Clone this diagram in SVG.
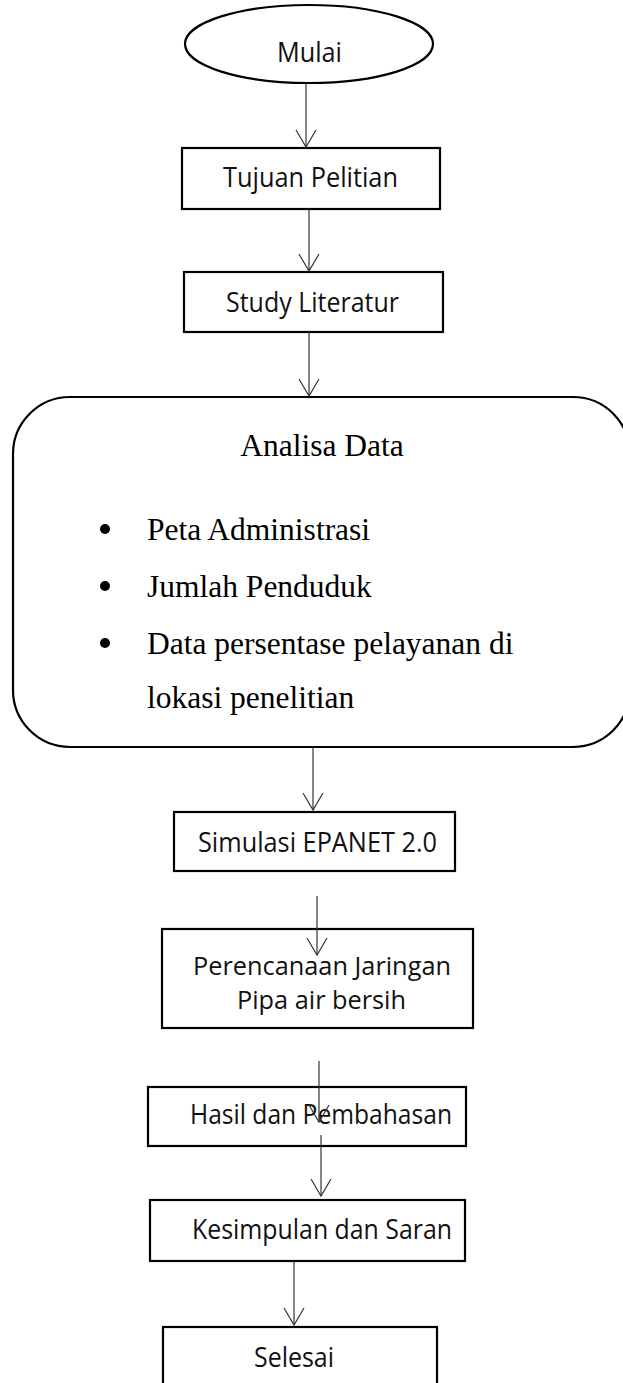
<svg xmlns="http://www.w3.org/2000/svg" width="623" height="1383" viewBox="0 0 623 1383">
<style>
.box{fill:#fff;stroke:#000;stroke-width:2.2}
.lbl{font-family:"Open Sans","Noto Sans",sans-serif;font-size:27px;fill:#111;text-anchor:middle}
.sm{font-size:25px}
.ser{font-family:"Liberation Serif","Times New Roman",serif;font-size:31.5px;fill:#000}
.con{stroke:#333;stroke-width:1.2;fill:none;marker-end:url(#arr)}
</style>
<defs>
<marker id="arr" markerUnits="userSpaceOnUse" markerWidth="40" markerHeight="40" viewBox="-20 -20 40 40" refX="0" refY="0" orient="auto" overflow="visible">
<path d="M-17,-10 L0,0 L-17,10" fill="none" stroke="#333" stroke-width="1.2"/>
</marker>
</defs>
<rect width="623" height="1383" fill="#fff"/>
<g id="mulai"><ellipse class="box" cx="309" cy="44" rx="124" ry="39"/><text class="lbl" x="309.5" y="62" textLength="65" lengthAdjust="spacingAndGlyphs">Mulai</text></g>
<g id="tujuan"><rect class="box" x="182" y="148" width="258" height="61"/><text class="lbl" x="310.5" y="187" textLength="175" lengthAdjust="spacingAndGlyphs">Tujuan Pelitian</text></g>
<g id="study"><rect class="box" x="184" y="272" width="259" height="60"/><text class="lbl" x="312.5" y="312" textLength="173" lengthAdjust="spacingAndGlyphs">Study Literatur</text></g>
<g id="analisa"><rect class="box" x="13" y="397" width="617" height="350" rx="57" ry="57"/>
<text class="ser" x="322" y="456" text-anchor="middle">Analisa Data</text>
<circle cx="105" cy="529" r="5"/><text class="ser" x="147" y="540">Peta Administrasi</text>
<circle cx="105" cy="586" r="5"/><text class="ser" x="147" y="597">Jumlah Penduduk</text>
<circle cx="105" cy="643" r="5"/><text class="ser" x="147" y="654">Data persentase pelayanan di</text>
<text class="ser" x="147" y="708">lokasi penelitian</text></g>
<g id="simulasi"><rect class="box" x="174" y="812" width="281" height="59"/><text class="lbl" x="317.5" y="852" textLength="239" lengthAdjust="spacingAndGlyphs">Simulasi EPANET 2.0</text></g>
<g id="perencanaan"><rect class="box" x="162" y="929" width="311" height="99"/><text class="lbl sm" x="322" y="975" textLength="258" lengthAdjust="spacingAndGlyphs">Perencanaan Jaringan</text><text class="lbl sm" x="321.5" y="1009" textLength="169" lengthAdjust="spacingAndGlyphs">Pipa air bersih</text></g>
<g id="hasil"><rect class="box" x="148" y="1087" width="318" height="59"/><text class="lbl" x="321" y="1124" textLength="262" lengthAdjust="spacingAndGlyphs">Hasil dan Pembahasan</text></g>
<g id="kesimpulan"><rect class="box" x="150" y="1200" width="315" height="61"/><text class="lbl" x="322" y="1239" textLength="260" lengthAdjust="spacingAndGlyphs">Kesimpulan dan Saran</text></g>
<g id="selesai"><rect class="box" x="163" y="1327" width="274" height="70"/><text class="lbl" x="294" y="1367" textLength="80" lengthAdjust="spacingAndGlyphs">Selesai</text></g>
<g id="connectors">
<line class="con" x1="306" y1="83" x2="306" y2="147"/>
<line class="con" x1="309" y1="209" x2="309" y2="271"/>
<line class="con" x1="309" y1="332" x2="309" y2="396"/>
<line class="con" x1="313" y1="747" x2="313" y2="810"/>
<line class="con" x1="317" y1="896" x2="317" y2="955"/>
<line class="con" x1="319" y1="1061" x2="319" y2="1122"/>
<line class="con" x1="321" y1="1135" x2="321" y2="1196"/>
<line class="con" x1="294" y1="1261" x2="294" y2="1325"/>
</g>
</svg>
